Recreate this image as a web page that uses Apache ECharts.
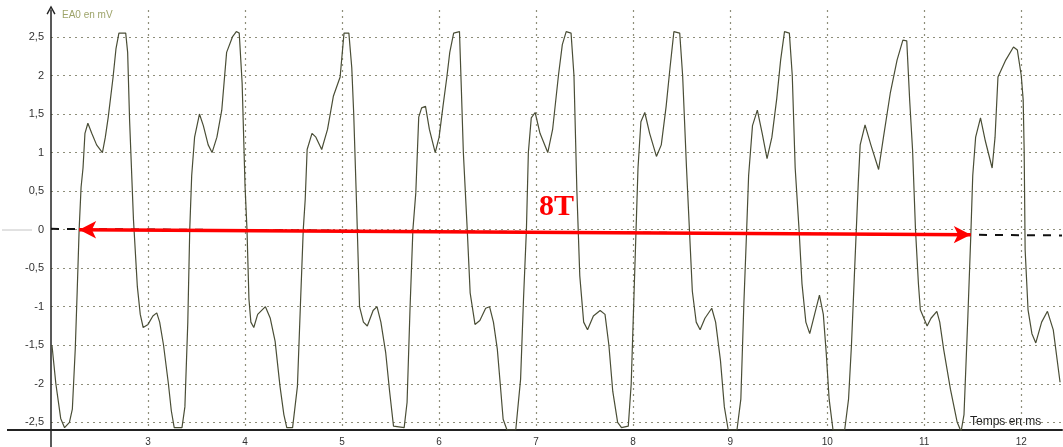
<!DOCTYPE html>
<html><head><meta charset="utf-8">
<script src="https://cdn.jsdelivr.net/npm/echarts@6/dist/echarts.min.js"></script>
<style>html,body{margin:0;padding:0;background:#fff}#c{width:1063px;height:447px}</style>
</head><body><div id="c"></div>
<script>
// Time in ms, EA0 in mV, one array per visible cycle
const cycle0 = [[2.01,-1.5],[2.05,-2.0],[2.10,-2.45],[2.14,-2.57],[2.19,-2.5],[2.22,-2.33],[2.25,-1.55],[2.27,-0.8],[2.29,0]];
const cycle1 = [[2.31,0.55],[2.33,0.8],[2.35,1.25],[2.38,1.38],[2.42,1.25],[2.47,1.1],[2.53,1.0],[2.56,1.2],[2.59,1.46],[2.64,1.98],[2.67,2.35],[2.70,2.55],[2.77,2.55],[2.79,2.3],[2.81,1.42],[2.85,0.13],[2.89,-0.74],[2.92,-1.1],[2.95,-1.27],[3.00,-1.23],[3.05,-1.12],[3.09,-1.08],[3.12,-1.2],[3.16,-1.5],[3.21,-2.0],[3.24,-2.35],[3.27,-2.57],[3.35,-2.57],[3.38,-2.3],[3.41,-1.2],[3.43,0]];
const cycle2 = [[3.45,0.7],[3.48,1.2],[3.53,1.5],[3.57,1.35],[3.62,1.1],[3.66,1.0],[3.71,1.2],[3.76,1.55],[3.81,2.3],[3.87,2.5],[3.91,2.57],[3.94,2.55],[3.97,1.9],[4.00,0.56],[4.02,0],[4.04,-0.9],[4.06,-1.2],[4.09,-1.27],[4.13,-1.1],[4.21,-1.0],[4.26,-1.15],[4.31,-1.45],[4.36,-2.03],[4.40,-2.4],[4.43,-2.57],[4.49,-2.57],[4.54,-2.03],[4.57,-1.0],[4.60,0]];
const cycle3 = [[4.62,0.39],[4.64,1.04],[4.69,1.25],[4.73,1.2],[4.79,1.04],[4.85,1.3],[4.91,1.73],[4.98,1.98],[5.02,2.55],[5.07,2.55],[5.10,2.1],[5.12,1.5],[5.15,0.3],[5.18,-1.0],[5.22,-1.2],[5.26,-1.25],[5.32,-1.05],[5.36,-1.0],[5.40,-1.2],[5.45,-1.6],[5.49,-2.1],[5.53,-2.55],[5.64,-2.57],[5.67,-2.24],[5.70,-1.04],[5.73,0]];
const cycle4 = [[5.76,0.48],[5.79,1.46],[5.82,1.58],[5.86,1.6],[5.90,1.3],[5.96,1.0],[6.00,1.2],[6.04,1.6],[6.08,1.98],[6.11,2.3],[6.15,2.55],[6.21,2.57],[6.23,1.8],[6.25,1.0],[6.29,0],[6.32,-0.82],[6.37,-1.23],[6.42,-1.18],[6.48,-1.02],[6.52,-1.0],[6.56,-1.2],[6.60,-1.55],[6.63,-2.0],[6.66,-2.46],[6.70,-2.6],[6.79,-2.6],[6.84,-1.94],[6.87,-0.9],[6.90,0]];
const cycle5 = [[6.92,1.0],[6.95,1.45],[6.99,1.52],[7.04,1.25],[7.12,1.0],[7.17,1.3],[7.23,2.0],[7.27,2.4],[7.31,2.57],[7.36,2.55],[7.39,2.0],[7.42,0.5],[7.45,-0.6],[7.49,-1.2],[7.53,-1.3],[7.59,-1.12],[7.66,-1.05],[7.71,-1.1],[7.75,-1.5],[7.79,-2.1],[7.84,-2.5],[7.88,-2.57],[7.95,-2.55],[7.98,-2.0],[8.01,-0.8],[8.03,0]];
const cycle6 = [[8.05,0.8],[8.08,1.4],[8.12,1.52],[8.17,1.25],[8.24,0.95],[8.29,1.1],[8.34,1.6],[8.38,2.1],[8.42,2.57],[8.48,2.55],[8.51,2.0],[8.55,0.8],[8.58,0],[8.61,-0.8],[8.65,-1.2],[8.69,-1.3],[8.74,-1.15],[8.81,-1.02],[8.85,-1.2],[8.90,-1.7],[8.94,-2.3],[8.98,-2.6],[9.07,-2.6],[9.11,-2.2],[9.14,-1.0],[9.17,0]];
const cycle7 = [[9.19,0.7],[9.23,1.35],[9.28,1.55],[9.33,1.25],[9.38,0.92],[9.43,1.2],[9.48,1.7],[9.52,2.2],[9.56,2.57],[9.61,2.55],[9.64,2.0],[9.67,0.8],[9.71,0],[9.74,-0.7],[9.78,-1.2],[9.82,-1.35],[9.87,-1.1],[9.92,-0.85],[9.96,-1.1],[9.99,-1.6],[10.02,-2.2],[10.06,-2.6],[10.18,-2.6],[10.22,-2.2],[10.25,-1.5],[10.28,-0.6],[10.30,0]];
const cycle8 = [[10.32,0.6],[10.34,1.1],[10.39,1.36],[10.45,1.1],[10.53,0.78],[10.58,1.2],[10.65,1.77],[10.72,2.2],[10.78,2.46],[10.82,2.45],[10.85,1.68],[10.88,1.03],[10.91,0],[10.94,-0.7],[10.96,-1.04],[11.03,-1.25],[11.07,-1.15],[11.13,-1.06],[11.16,-1.2],[11.20,-1.55],[11.27,-2.07],[11.34,-2.5],[11.38,-2.62],[11.41,-2.4],[11.45,-1.12],[11.48,-0.08]];
const cycle9 = [[11.50,0.7],[11.53,1.2],[11.58,1.45],[11.63,1.15],[11.70,0.8],[11.73,1.2],[11.76,1.98],[11.84,2.2],[11.92,2.37],[11.96,2.33],[12.00,2.0],[12.02,1.68],[12.03,1.03],[12.04,-0.26],[12.07,-1.04],[12.11,-1.35],[12.15,-1.47],[12.21,-1.2],[12.27,-1.06],[12.33,-1.3],[12.40,-1.98]];

const xTicks = [3,4,5,6,7,8,9,10,11,12];
const yTicks = [-2.5,-2,-1.5,-1,-0.5,0,0.5,1,1.5,2,2.5];

// 8T annotation (ms, mV)
const arrowStart = [2.29, 0];
const arrowEnd = [11.48, -0.065];
const refLineStart = [2.0, 0.01];
const refLineEnd = [12.42, -0.075];
const periodLabel = '8T';
const periodLabelPos = [7.21, 0.285];

const signal = [].concat(cycle0, cycle1, cycle2, cycle3, cycle4, cycle5, cycle6, cycle7, cycle8, cycle9);

const chart = echarts.init(document.getElementById('c'), null, {renderer: 'canvas'});
const gridColor = '#8e8e7a';
chart.setOption({
  animation: false,
  backgroundColor: '#fff',
  grid: {left: 51, right: 1, top: 10, bottom: 17},
  xAxis: {
    type: 'value', min: 2, max: 12.42,
    axisLine: {onZero: false, lineStyle: {color: '#222', width: 2}},
    axisTick: {show: false, customValues: xTicks},
    axisLabel: {customValues: xTicks, color: '#333', fontSize: 10, margin: 7, fontFamily: 'Liberation Sans'},
    splitLine: {show: true, lineStyle: {color: gridColor, type: [2, 4], width: 1.2}}
  },
  yAxis: {
    type: 'value', min: -2.6, max: 2.85,
    axisLine: {show: true, symbol: ['none', 'path://M5,0 L10,9 L8.6,9.8 L5,3 L1.4,9.8 L0,9 Z'], symbolSize: [9, 10], symbolOffset: [0, 0], lineStyle: {color: '#222', width: 1.5}},
    axisTick: {show: false, customValues: yTicks},
    axisLabel: {customValues: yTicks, color: '#333', fontSize: 11, margin: 7, fontFamily: 'Liberation Sans',
      formatter: v => String(v).replace('.', ',')},
    splitLine: {show: true, lineStyle: {color: gridColor, type: [2, 4], width: 1.2}}
  },
  series: [
    {
      type: 'line', data: [], silent: true, z: 3,
      markLine: {silent: true, animation: false, symbol: ['none', 'none'], label: {show: false},
        lineStyle: {color: '#111', type: [8, 8], width: 2},
        data: [[{coord: refLineStart}, {coord: refLineEnd}]]}
    },
    {
      type: 'line', data: signal, showSymbol: false, silent: true, z: 4,
      lineStyle: {color: '#4a4e36', width: 1.2}
    },
    {
      type: 'line', data: [], silent: true, z: 5,
      markLine: {silent: true, animation: false, symbol: ['arrow', 'arrow'], symbolSize: [13, 17], label: {show: false},
        lineStyle: {color: '#ff0000', type: 'solid', width: 3.5},
        data: [[{coord: arrowStart}, {coord: arrowEnd}]]},
      markPoint: {silent: true, animation: false, symbol: 'circle', symbolSize: 0,
        label: {show: true, position: 'inside', formatter: periodLabel, color: '#ff0000', fontSize: 30, fontWeight: 'bold', fontFamily: 'Liberation Serif'},
        data: [{coord: periodLabelPos}]}
    }
  ],
  graphic: [
    {type: 'text', left: 62, top: 10, style: {text: 'EA0 en mV', fill: '#9ea46a', font: '10px "Liberation Sans"'}},
    {type: 'text', left: 970, top: 416, style: {text: 'Temps en ms', fill: '#222', font: '12px "Liberation Sans"'}},
    {type: 'line', shape: {x1: 2, y1: 230, x2: 32, y2: 230}, style: {stroke: '#c4c4c4', lineWidth: 1}},
    {type: 'line', shape: {x1: 7, y1: 430, x2: 51, y2: 430}, style: {stroke: '#222', lineWidth: 2}},
    {type: 'line', shape: {x1: 51, y1: 430, x2: 51, y2: 447}, style: {stroke: '#222', lineWidth: 1.5}}
  ]
});
</script>
</body></html>
